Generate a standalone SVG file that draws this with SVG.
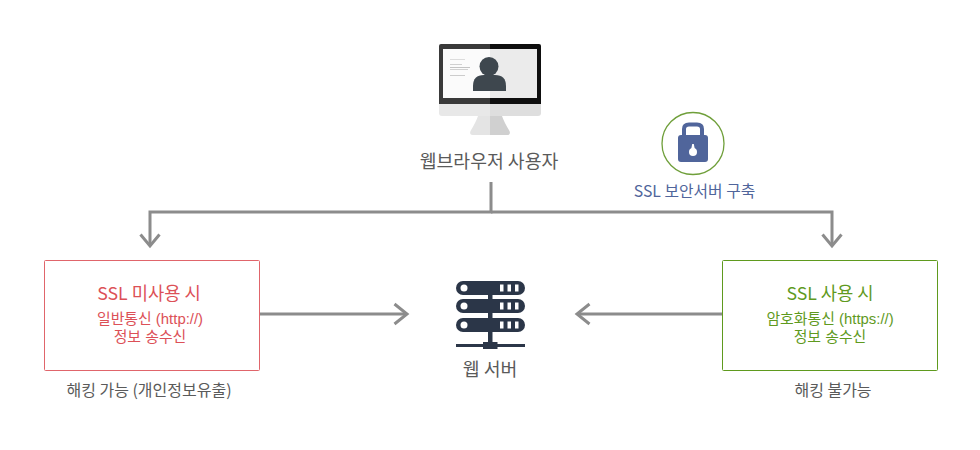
<svg xmlns="http://www.w3.org/2000/svg" width="980" height="450" viewBox="0 0 980 450">
<style>
text{font-family:"Noto Sans CJK KR","Noto Sans",sans-serif;text-anchor:middle}
.line{fill:none;stroke:#8c8c8c;stroke-width:3}
.red{fill:#dc5057}.green{fill:#5f9a1e}.gray{fill:#5a5a5a}
.t17{font-size:17.700px}.t16{font-size:16px}
text.t14{font-family:"Liberation Sans","Noto Sans CJK KR",sans-serif;font-size:14.900px}
.srv{fill:#2b3648}
</style>
<rect width="980" height="450" fill="#ffffff"/>
<g id="connectors">
<path class="line" d="M491 182V212H150V246"/>
<path class="line" d="M491 212H832V246"/>
<path class="line" d="M140.500 234.500L150 246L159.500 234.500"/>
<path class="line" d="M822.500 234.500L832 246L841.500 234.500"/>
<path class="line" d="M260 314H406"/>
<path class="line" d="M394.500 304L407 314L394.500 324"/>
<path class="line" d="M722 314H578"/>
<path class="line" d="M589.500 304L577 314L589.500 324"/>
</g>
<g id="browser-user">
<path d="M478 116H490V135H473Q469 135 470.500 131Q476 122 478 116Z" fill="#e4e4e4"/>
<path d="M490 116H502Q504 122 509.500 131Q511 135 507 135H490Z" fill="#d0d0d0"/>
<path d="M439 104H490V116H442Q439 116 439 113Z" fill="#e8e8e8"/>
<path d="M490 104H541V113Q541 116 538 116H490Z" fill="#dedede"/>
<path d="M441 44H490V104H439V46Q439 44 441 44Z" fill="#3a3a3a"/>
<path d="M490 44H539Q541 44 541 46V104H490Z" fill="#0e0e0e"/>
<rect x="443" y="49" width="47" height="49" fill="#fbfbfb"/>
<rect x="490" y="49" width="47" height="49" fill="#ebebeb"/>
<rect x="450" y="59" width="15" height="1" fill="#dcdcdc"/>
<rect x="450" y="64" width="12" height="1" fill="#d0d0d0"/>
<rect x="450" y="67" width="20" height="1" fill="#c4c4c4"/>
<rect x="450" y="69" width="18" height="1" fill="#d0d0d0"/>
<rect x="450" y="75" width="15" height="1" fill="#cccccc"/>
<circle cx="489" cy="66.500" r="9.500" fill="#3e474e"/>
<path d="M473 91V86Q473 75 484 75H495Q506 75 506 86V91Z" fill="#3e474e"/>
<text class="gray" x="489" y="168" font-size="18.300">웹브라우저 사용자</text>
</g>
<g id="ssl-server">
<circle cx="693" cy="143.500" r="31" fill="#fff" stroke="#6f9f3a" stroke-width="1.300"/>
<path d="M684 136V129Q684 124.500 689 124.500H697Q702 124.500 702 129V136" fill="none" stroke="#50659b" stroke-width="4"/>
<path d="M681 135H705Q708 135 708 138V159Q708 162 705 162H681Q678 162 678 159V138Q678 135 681 135Z" fill="#50659b"/>
<circle cx="693" cy="152" r="4" fill="#fff"/>
<path d="M692.200 144H693.800L695 150H691Z" fill="#fff"/>
<text x="694.500" y="197" font-size="15.800" fill="#50659b">SSL 보안서버 구축</text>
</g>
<g id="no-ssl">
<rect x="44.500" y="260.500" width="215" height="110" rx="1" fill="#fff" stroke="#e0656b"/>
<text class="red t17" x="149" y="300">SSL 미사용 시</text>
<text class="red t14" x="150" y="324">일반통신 (http://)</text>
<text class="red t14" x="150" y="342">정보 송수신</text>
<text class="gray t16" x="149" y="396">해킹 가능 (개인정보유출)</text>
</g>
<g id="web-server">
<rect class="srv" x="456" y="281" width="69" height="14" rx="7"/>
<rect class="srv" x="456" y="299" width="69" height="14" rx="7"/>
<rect class="srv" x="456" y="318" width="69" height="14" rx="7"/>
<g fill="#fff">
<circle cx="464" cy="288" r="3.500"/><circle cx="464" cy="306" r="3.500"/><circle cx="464" cy="325" r="3.500"/>
<path d="M500 284.500h3.500v7h-3.500zM507.500 284.500h3.500v7h-3.500zM515 284.500h3.500v7h-3.500zM500 302.500h3.500v7h-3.500zM507.500 302.500h3.500v7h-3.500zM515 302.500h3.500v7h-3.500zM500 321.500h3.500v7h-3.500zM507.500 321.500h3.500v7h-3.500zM515 321.500h3.500v7h-3.500z"/>
</g>
<rect class="srv" x="488" y="295" width="4.500" height="4"/>
<rect class="srv" x="488" y="313" width="4.500" height="5"/>
<rect class="srv" x="488" y="332" width="4.500" height="12"/>
<rect class="srv" x="456" y="344" width="69" height="3"/>
<rect class="srv" x="483" y="342" width="14.500" height="7"/>
<text class="gray" x="490" y="376" font-size="18.300">웹 서버</text>
</g>
<g id="ssl">
<rect x="722.500" y="260.500" width="215" height="110" rx="1" fill="#fff" stroke="#5f9a1e"/>
<text class="green t17" x="830" y="300">SSL 사용 시</text>
<text class="green t14" x="830" y="324">암호화통신 (https://)</text>
<text class="green t14" x="830" y="342">정보 송수신</text>
<text class="gray t16" x="833" y="396">해킹 불가능</text>
</g>
</svg>
